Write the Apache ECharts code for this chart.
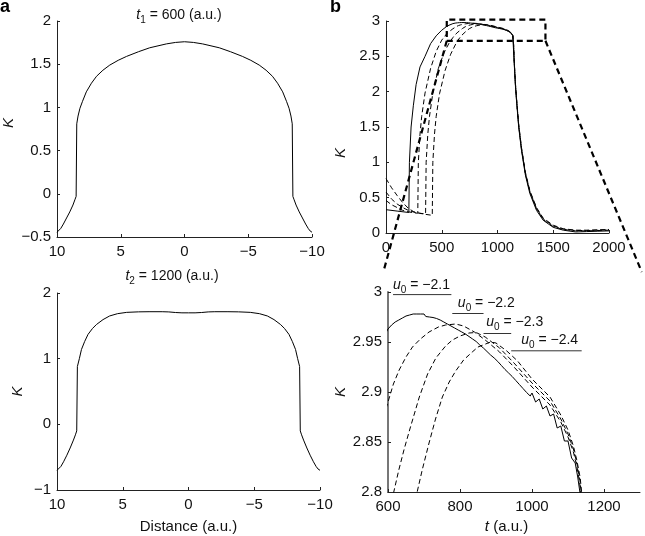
<!DOCTYPE html>
<html><head><meta charset="utf-8">
<script src="https://cdn.jsdelivr.net/npm/echarts@6/dist/echarts.min.js"></script>
<style>html,body{margin:0;padding:0;background:#fff}#c{width:645px;height:536px}</style>
</head><body><div id="c"></div>
<script>
// ---- Panel a: spatial profiles (x = distance, K) ----
const PROFILE_T1 = [[10,-0.445],[9.85,-0.43],[9.7,-0.40],[9.5,-0.35],[9.25,-0.28],[9.0,-0.21],[8.75,-0.13],[8.6,-0.07],[8.5,-0.03],
 [8.45,0.81],[8.35,0.90],[8.2,0.99],[8.0,1.07],[7.7,1.18],[7.3,1.28],[6.9,1.36],[6.4,1.43],[5.86,1.49],[5.2,1.545],[4.55,1.59],[3.6,1.645],[2.73,1.69],[2.0,1.715],[1.42,1.735],[0.7,1.752],[0,1.76],
 [-0.7,1.752],[-1.42,1.735],[-2.0,1.715],[-2.73,1.69],[-3.6,1.645],[-4.55,1.59],[-5.2,1.545],[-5.86,1.49],[-6.4,1.43],[-6.9,1.36],[-7.3,1.28],[-7.7,1.18],[-8.0,1.07],[-8.2,0.99],[-8.35,0.90],[-8.45,0.81],
 [-8.5,-0.03],[-8.6,-0.07],[-8.75,-0.13],[-9.0,-0.21],[-9.25,-0.28],[-9.5,-0.35],[-9.7,-0.40],[-9.85,-0.43],[-10,-0.445]];
const PROFILE_T2 = [[10,-0.70],[9.85,-0.68],[9.7,-0.64],[9.5,-0.57],[9.25,-0.47],[9.0,-0.36],[8.75,-0.24],[8.6,-0.16],[8.5,-0.10],
 [8.45,0.88],[8.3,1.0],[8.14,1.14],[7.9,1.26],[7.64,1.37],[7.3,1.46],[7.0,1.52],[6.5,1.595],[6.0,1.65],[5.4,1.685],[4.7,1.705],[3.8,1.713],[3.0,1.715],[2.0,1.715],[1.5,1.712],[1.0,1.703],[0.5,1.698],[0,1.698],
 [-0.5,1.698],[-1.0,1.703],[-1.5,1.712],[-2.0,1.715],[-3.0,1.715],[-3.8,1.713],[-4.7,1.705],[-5.4,1.685],[-6.0,1.65],[-6.5,1.595],[-7.0,1.52],[-7.3,1.46],[-7.64,1.37],[-7.9,1.26],[-8.14,1.14],[-8.3,1.0],[-8.45,0.88],
 [-8.5,-0.10],[-8.6,-0.16],[-8.75,-0.24],[-9.0,-0.36],[-9.25,-0.47],[-9.5,-0.57],[-9.7,-0.64],[-9.85,-0.68],[-10,-0.70]];

// ---- Panel b: time series K(t) for u0 = -2.1 (solid), -2.2, -2.3, -2.4 (dashed) ----
const U21 = [[0,0.33],[100,0.31],[205,0.29],[210,1.0],[225,1.5],[245,1.8],[270,2.1],[305,2.35],[350,2.5],[400,2.68],[450,2.79],[500,2.87],[550,2.93],
 [600,2.963],[605,2.963],[610,2.967],[615,2.9665],[620,2.970],[625,2.969],[630,2.972],[635,2.971],[640,2.974],[645,2.973],[650,2.976],[655,2.9745],[660,2.977],[665,2.9755],[670,2.978],[675,2.976],[680,2.978],[685,2.976],[690,2.978],[695,2.976],[700,2.978],[705,2.9755],[710,2.977],[715,2.975],[720,2.977],[725,2.9745],[730,2.976],[735,2.9735],[740,2.975],[745,2.972],[750,2.973],[755,2.970],[760,2.971],[765,2.968],[770,2.969],[775,2.966],[780,2.967],[785,2.964],[790,2.965],[795,2.962],[800,2.963],[805,2.960],[810,2.961],[815,2.958],[820,2.959],[825,2.9555],[830,2.956],[835,2.953],[840,2.954],[845,2.9505],[850,2.9515],[855,2.947],[860,2.9485],[865,2.944],[870,2.9455],[875,2.9405],[880,2.9415],[885,2.937],[890,2.9385],[895,2.934],[900,2.9355],[905,2.9305],[910,2.9315],[915,2.9265],[920,2.9275],[925,2.9225],[930,2.9235],[935,2.919],[940,2.9205],[945,2.9155],[950,2.9165],[955,2.9115],[960,2.9125],[965,2.9075],[970,2.9085],[975,2.9035],[980,2.9045],[985,2.8995],[990,2.9005],[995,2.896],
 [1000,2.899],[1010,2.890],[1020,2.893],[1030,2.883],[1040,2.886],[1050,2.876],[1060,2.878],[1070,2.864],[1080,2.866],[1090,2.851],[1100,2.851],[1110,2.834],[1120,2.829],[1127,2.815],[1135,2.795],
 [1140,2.70],[1150,2.40],[1160,2.10],[1170,1.88],[1190,1.50],[1215,1.17],[1250,0.82],[1290,0.56],[1350,0.32],[1410,0.18],[1500,0.08],[1590,0.04],[1700,0.015],[1800,0.02],[1900,0.025],[2000,0.03]];
const U22 = [[0,0.46],[50,0.40],[100,0.36],[150,0.32],[200,0.30],[250,0.285],[285,0.28],[290,1.0],[305,1.4],[320,1.65],[350,1.98],[400,2.33],[450,2.57],[500,2.73],[550,2.83],[600,2.89],[615,2.908],[631,2.922],[650,2.935],[668,2.945],[690,2.953],[714,2.960],[740,2.965],[760,2.967],[788,2.968],[810,2.966],[840,2.960],[870,2.952],[910,2.940],[950,2.925],[1000,2.905],[1050,2.887],[1080,2.870],[1100,2.855],[1115,2.840],[1125,2.825],[1132,2.81],[1137,2.795],[1145,2.65],[1150,2.42],[1160,2.12],[1170,1.90],[1190,1.52],[1215,1.19],[1250,0.84],[1290,0.58],[1350,0.34],[1410,0.19],[1500,0.09],[1590,0.05],[1700,0.03],[1800,0.03],[1900,0.035],[2000,0.04]];
const U23 = [[0,0.58],[50,0.48],[100,0.41],[150,0.36],[200,0.32],[250,0.295],[300,0.28],[355,0.27],[360,1.0],[375,1.4],[390,1.65],[420,1.98],[470,2.33],[520,2.55],[570,2.70],[600,2.765],[616,2.80],[630,2.822],[645,2.843],[660,2.862],[687,2.895],[710,2.918],[733,2.934],[760,2.946],[779,2.952],[800,2.956],[825,2.959],[845,2.9595],[870,2.955],[910,2.944],[950,2.929],[1000,2.909],[1050,2.891],[1080,2.873],[1100,2.858],[1115,2.843],[1125,2.828],[1133,2.812],[1138,2.795],[1145,2.65],[1150,2.43],[1160,2.13],[1170,1.91],[1190,1.53],[1215,1.20],[1250,0.85],[1290,0.59],[1350,0.35],[1410,0.20],[1500,0.10],[1590,0.055],[1700,0.035],[1800,0.035],[1900,0.04],[2000,0.045]];
const U24 = [[0,0.77],[50,0.64],[100,0.53],[150,0.43],[200,0.35],[250,0.30],[300,0.28],[350,0.265],[415,0.25],[420,1.0],[435,1.4],[450,1.65],[480,1.97],[530,2.30],[580,2.53],[630,2.69],[660,2.76],[681,2.80],[695,2.822],[714,2.849],[732,2.873],[751,2.895],[770,2.910],[788,2.921],[810,2.932],[834,2.940],[850,2.945],[871,2.948],[885,2.950],[900,2.949],[930,2.941],[960,2.931],[1000,2.913],[1050,2.895],[1080,2.877],[1100,2.862],[1115,2.846],[1125,2.831],[1134,2.814],[1139,2.795],[1145,2.65],[1150,2.44],[1160,2.14],[1170,1.92],[1190,1.54],[1215,1.21],[1250,0.86],[1290,0.60],[1350,0.36],[1410,0.21],[1500,0.11],[1590,0.06],[1700,0.04],[1800,0.04],[1900,0.045],[2000,0.05]];

// zoom box (t range, K range) and where the connector lines end in the lower panel
const ZOOM_T = [545, 1430];
const ZOOM_K = [2.72, 3.02];
const LINK_END_T = [587, 1305];
const LINK_END_K = 3.02;

// u0 labels in the lower panel: text left (t), text K, underline t-range, underline K
const U0_TEXT = ['−2.1', '−2.2', '−2.3', '−2.4'];
const U0_TEXT_T = [614, 794, 873, 970];
const U0_TEXT_K = [3.0067, 2.9884, 2.9701, 2.9518];
const U0_LINE_T = [[614, 776], [778.6, 865.4], [865.4, 942.2], [942.2, 1138]];
const U0_LINE_K = [2.9974, 2.9785, 2.9585, 2.9412];

const FONT = 'Liberation Sans, Arial, Helvetica, sans-serif';
const fmt = v => String(Math.round(v * 1000) / 1000).replace('-', '\u2212');

function xAx(gi, o) {
  return Object.assign({
    type: 'value', gridIndex: gi,
    axisLine: {show: true, onZero: false, lineStyle: {color: '#222', width: 1}},
    axisTick: {show: true, inside: true, length: 3, lineStyle: {color: '#222'}},
    axisLabel: {color: '#111', fontSize: 15, fontFamily: FONT, margin: 7, formatter: fmt, showMinLabel: true},
    splitLine: {show: false},
    nameMoveOverlap: false
  }, o);
}
function yAx(gi, o) {
  return Object.assign({
    type: 'value', gridIndex: gi,
    axisLine: {show: true, onZero: false, lineStyle: {color: '#222', width: 1}},
    axisTick: {show: true, inside: true, length: 3, lineStyle: {color: '#222'}},
    axisLabel: {color: '#111', fontSize: 15, fontFamily: FONT, margin: 6, formatter: fmt, showMinLabel: true, showMaxLabel: true},
    splitLine: {show: false},
    name: 'K', nameLocation: 'middle', nameMoveOverlap: false,
    nameTextStyle: {fontStyle: 'italic', fontSize: 15, fontFamily: FONT, color: '#111'}
  }, o);
}

const solid = {color: '#000', width: 1};
const dashed = {color: '#000', width: 1, type: [5, 3]};
function ln(xi, data, style, extra) {
  return Object.assign({type: 'line', xAxisIndex: xi, yAxisIndex: xi, data: data, showSymbol: false, symbol: 'none',
    lineStyle: style, animation: false, silent: true, clip: true}, extra || {});
}

const zoomBox = [[ZOOM_T[0], ZOOM_K[0]], [ZOOM_T[1], ZOOM_K[0]], [ZOOM_T[1], ZOOM_K[1]], [ZOOM_T[0], ZOOM_K[1]], [ZOOM_T[0], ZOOM_K[0]]];

const option = {
  backgroundColor: '#fff',
  animation: false,
  grid: [
    {left: 57, top: 21, width: 255, height: 216, outerBoundsMode: 'none'},
    {left: 57, top: 293, width: 263, height: 197, outerBoundsMode: 'none'},
    {left: 386, top: 21, width: 223, height: 212, outerBoundsMode: 'none'},
    {left: 388, top: 292, width: 252, height: 200, outerBoundsMode: 'none'}
  ],
  xAxis: [
    xAx(0, {min: -10, max: 10, interval: 5, inverse: true}),
    xAx(1, {min: -10, max: 10, interval: 5, inverse: true, name: 'Distance (a.u.)', nameLocation: 'middle', nameGap: 29,
      nameTextStyle: {fontSize: 15, fontFamily: FONT, color: '#111'}}),
    xAx(2, {min: 0, max: 2000, interval: 500}),
    xAx(3, {min: 600, max: 1300, interval: 200, name: '{i|t} (a.u.)', nameLocation: 'middle', nameGap: 27,
      axisLabel: {color: '#111', fontSize: 15, fontFamily: FONT, margin: 7, formatter: fmt, showMaxLabel: false},
      nameTextStyle: {fontSize: 15, fontFamily: FONT, color: '#111', padding: [0, 15, 0, 0],
        rich: {i: {fontStyle: 'italic', fontSize: 15, fontFamily: FONT, color: '#111'}}}})
  ],
  yAxis: [
    yAx(0, {min: -0.5, max: 2, interval: 0.5, nameGap: 41,
      nameTextStyle: {fontStyle: 'italic', fontSize: 15, fontFamily: FONT, color: '#111', padding: [0, 0, 0, 12]}}),
    yAx(1, {min: -1, max: 2, interval: 1, nameGap: 32}),
    yAx(2, {min: 0, max: 3, interval: 0.5, nameGap: 38,
      nameTextStyle: {fontStyle: 'italic', fontSize: 15, fontFamily: FONT, color: '#111', padding: [0, 52, 0, 0]}}),
    yAx(3, {min: 2.8, max: 3, interval: 0.05, nameGap: 40,
      axisLine: {show: true, onZero: false, lineStyle: {color: '#777', width: 2}}})
  ],
  series: [
    ln(0, PROFILE_T1, solid),
    ln(1, PROFILE_T2, solid),
    ln(2, U21, solid), ln(2, U22, dashed), ln(2, U23, dashed), ln(2, U24, dashed),
    ln(2, zoomBox, {color: '#000', width: 2.2, type: [6, 4]}, {clip: false, z: 5}),
    ln(3, U21, solid), ln(3, U22, dashed), ln(3, U23, dashed), ln(3, U24, dashed)
  ]
};

const chart = echarts.init(document.getElementById('c'), null, {renderer: 'canvas'});
chart.setOption(option);

const px = (g, v) => chart.convertToPixel({gridIndex: g}, v);
const graphics = [];
// panel letters
graphics.push({type: 'text', left: 0, top: -2, style: {text: 'a', font: 'bold 18px ' + FONT, fill: '#000'}});
graphics.push({type: 'text', left: 330, top: -2, style: {text: 'b', font: 'bold 18px ' + FONT, fill: '#000'}});
// panel titles
const richT = {
  i: {fontStyle: 'italic', fontSize: 14, fontFamily: FONT, lineHeight: 20, verticalAlign: 'middle', fill: '#111'},
  s: {fontSize: 10, fontFamily: FONT, lineHeight: 9, verticalAlign: 'bottom', fill: '#111'},
  n: {fontSize: 14, fontFamily: FONT, lineHeight: 20, verticalAlign: 'middle', fill: '#111'}
};
graphics.push({type: 'text', x: 179, y: 15, style: {text: '{i|t}{s|1}{n| = 600 (a.u.)}', rich: richT, align: 'center', verticalAlign: 'middle'}});
graphics.push({type: 'text', x: 172, y: 276, style: {text: '{i|t}{s|2}{n| = 1200 (a.u.)}', rich: richT, align: 'center', verticalAlign: 'middle'}});
// connectors from zoom box to lower panel
const bl = px(2, [ZOOM_T[0], ZOOM_K[0]]), br = px(2, [ZOOM_T[1], ZOOM_K[0]]);
const e1 = px(3, [LINK_END_T[0], LINK_END_K]), e2 = px(3, [LINK_END_T[1], LINK_END_K]);
graphics.push({type: 'line', shape: {x1: bl[0], y1: bl[1], x2: e1[0], y2: e1[1]}, style: {stroke: '#000', lineWidth: 2.2, lineDash: [6, 4]}, z: 10});
graphics.push({type: 'line', shape: {x1: br[0], y1: br[1], x2: e2[0], y2: e2[1]}, style: {stroke: '#000', lineWidth: 2.2, lineDash: [6, 4]}, z: 10});
// u0 labels with underlines
for (let k = 0; k < 4; k++) {
  const tp = px(3, [U0_TEXT_T[k], U0_TEXT_K[k]]);
  graphics.push({type: 'text', x: tp[0], y: tp[1], z: 20, style: {text: '{i|u}{s|0}{n| = ' + U0_TEXT[k] + '}', rich: richT, align: 'left', verticalAlign: 'middle'}});
  const a = px(3, [U0_LINE_T[k][0], U0_LINE_K[k]]), b = px(3, [U0_LINE_T[k][1], U0_LINE_K[k]]);
  graphics.push({type: 'line', z: 20, shape: {x1: a[0], y1: a[1], x2: b[0], y2: b[1]}, style: {stroke: '#333', lineWidth: 1}});
}
chart.setOption({graphic: graphics});
</script>
</body></html>
